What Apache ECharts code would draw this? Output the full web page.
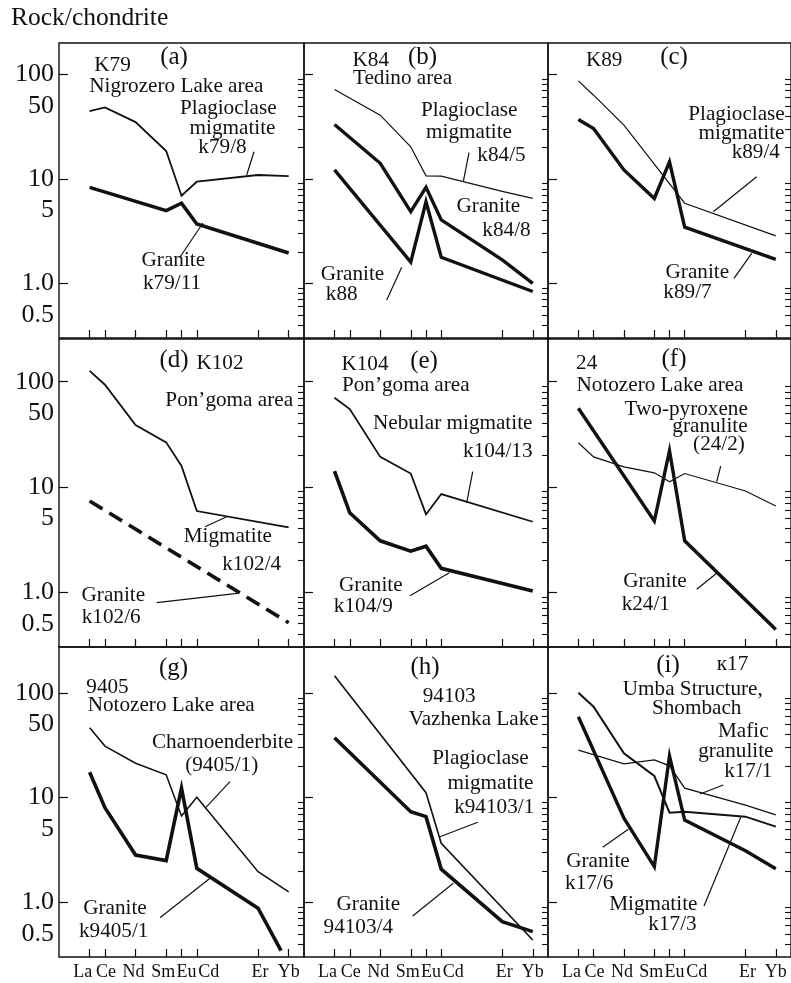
<!DOCTYPE html>
<html><head><meta charset="utf-8">
<script src="https://cdn.jsdelivr.net/npm/echarts@6.0.0/dist/echarts.min.js"></script>
<style>html,body{margin:0;padding:0;background:#fff}#c{width:791px;height:983px}</style>
</head><body><div id="c"></div>
<script>
// ---- axis data ----
const elements = ['La', 'Ce', 'Nd', 'Sm', 'Eu', 'Cd', 'Er', 'Yb'];
const elementZ = [57, 58, 60, 62, 63, 64, 68, 70];
const yTickLabels = [0.5, 1, 5, 10, 50, 100];
const yMajorTicks = [1, 10, 100];
const yMinorTicks = [0.4, 0.5, 0.6, 0.7, 0.8, 0.9, 2, 3, 4, 5, 6, 7, 8, 9, 20, 30, 40, 50, 60, 70, 80, 90];

// ---- series data: [atomic number, rock/chondrite] ----
const a_k79_8  = [[57,44.5],[58,48.3],[60,35],[62,18.5],[63,6.9],[64,9.4],[68,10.9],[70,10.65]];
const a_k79_11 = [[57,8.3],[62,4.97],[63,5.85],[64,3.7],[70,1.95]];
const b_k84_5  = [[57,71.8],[60,40.8],[62,20.3],[63,10.7],[64,10.65],[68,7.6],[70,6.5]];
const b_k84_8  = [[57,33.2],[60,14.1],[62,4.86],[63,8.3],[64,4.05],[68,1.68],[70,1.0]];
const b_k88    = [[57,12.2],[62,1.6],[63,6.05],[64,1.78],[70,0.836]];
const c_k89_4  = [[57,86.7],[58,63.3],[60,32.7],[64,5.85],[70,2.85]];
const c_k89_7  = [[57,37.1],[58,30.4],[60,12.2],[62,6.5],[63,14.6],[64,3.45],[70,1.7]];
const d_k102_4 = [[57,127],[58,93.7],[60,38.8],[62,26.5],[63,15.8],[64,5.89],[70,4.12]];
const d_k102_6 = [[57,7.33],[70,0.51]];
const e_k104_13= [[57,70.5],[58,55],[60,19.3],[62,13.4],[63,5.47],[64,8.55],[70,4.66]];
const e_k104_9 = [[57,14.1],[58,5.67],[60,3.07],[62,2.45],[63,2.73],[64,1.68],[70,1.02]];
const f_24_2   = [[57,26.3],[58,19.3],[60,15.5],[62,13.6],[63,11.2],[64,13.4],[68,9.13],[70,6.57]];
const f_k24_1  = [[57,55.9],[62,4.73],[63,22.1],[64,3.07],[70,0.441]];
const g_9405_1 = [[57,46.6],[58,31.1],[60,21.3],[62,16.5],[63,6.68],[64,10.1],[68,1.96],[70,1.26]];
const g_k9405_1= [[57,17.5],[58,8.0],[60,2.83],[62,2.5],[63,12.3],[64,2.11],[68,0.877],[69.5,0.345]];
const h_k94103_1=[[57,146],[63,11.15],[64,3.66],[70,0.436]];
const h_94103_4= [[57,37.4],[62,7.34],[63,6.58],[64,2.07],[68,0.653],[70,0.524]];
const i_k17_3  = [[57,100.6],[58,73.9],[60,26.5],[62,16.1],[63,7.18],[64,7.34],[68,6.58],[70,5.28]];
const i_k17_1  = [[57,28.5],[60,21.0],[62,22.9],[63,20.1],[64,12.3],[68,8.5],[70,6.83]];
const i_k17_6  = [[57,59.3],[60,6.35],[62,2.19],[63,25.0],[64,6.11],[68,3.11],[70,2.09]];

// ---- layout / style ----
const ink = '#111111';
const serif = 'Liberation Serif';
const colLeft = [59, 304, 548];
const colWidth = [245, 244, 248];
const rowTop = [43, 339, 647];
const rowHeight = [295, 308, 310];
const rowMax = [200, 255, 275];

const panelSeries = [
  [{d:a_k79_8,w:1.8},{d:a_k79_11,w:3.6}],
  [{d:b_k84_5,w:1.2},{d:b_k84_8,w:3.4},{d:b_k88,w:3.4}],
  [{d:c_k89_4,w:1.2},{d:c_k89_7,w:3.4}],
  [{d:d_k102_4,w:1.8},{d:d_k102_6,w:3.6,dash:[15,8]}],
  [{d:e_k104_13,w:1.8},{d:e_k104_9,w:3.6}],
  [{d:f_24_2,w:1.2},{d:f_k24_1,w:3.4}],
  [{d:g_9405_1,w:1.5},{d:g_k9405_1,w:3.6}],
  [{d:h_k94103_1,w:1.6},{d:h_94103_4,w:3.6}],
  [{d:i_k17_3,w:2.0},{d:i_k17_1,w:1.3},{d:i_k17_6,w:3.4}]
];

// label shifts via padding (shift = (padL - padR)/2)
const labelPad = [[0,14],[2,0],[0,4],[0,6],[10,0],[24,0],[4,0],[0,0]];
const rich = {};
labelPad.forEach((p, i) => {
  rich['s' + i] = {fontFamily: serif, fontSize: 18, color: ink, padding: [0, p[1], 0, p[0]]};
});

const grids = [], xAxes = [], yAxes = [], series = [];
for (let p = 0; p < 9; p++) {
  const r = Math.floor(p / 3), c = p % 3;
  grids.push({left: colLeft[c], top: rowTop[r], width: colWidth[c], height: rowHeight[r],
    show: true, borderColor: ink, borderWidth: 1.4, backgroundColor: 'transparent'});
  xAxes.push({gridIndex: p, type: 'value', min: 55, max: 71,
    axisLine: {show: false}, splitLine: {show: false},
    axisTick: {show: true, inside: true, length: 8, customValues: elementZ, lineStyle: {color: ink, width: 1.2}},
    axisLabel: {show: r === 2, customValues: elementZ, margin: 6,
      formatter: v => { const i = elementZ.indexOf(v); return i < 0 ? '' : '{s' + i + '|' + elements[i] + '}'; },
      rich: rich}
  });
  yAxes.push({gridIndex: p, type: 'log', logBase: 10, min: 0.3, max: rowMax[r],
    axisLine: {show: false}, splitLine: {show: false},
    axisTick: {show: true, inside: true, length: 9, customValues: yMajorTicks, lineStyle: {color: ink, width: 1.2}},
    axisLabel: {show: c === 0, customValues: yTickLabels, margin: 5, fontFamily: serif, fontSize: 26, color: ink,
      formatter: v => (Math.abs(v - 1) < 1e-9 ? '1.0' : String(+(+v).toPrecision(6)))}
  });
  yAxes.push({gridIndex: p, type: 'log', logBase: 10, min: 0.3, max: rowMax[r],
    axisLine: {show: false}, splitLine: {show: false}, axisLabel: {show: false},
    axisTick: {show: true, inside: true, length: 6, customValues: yMinorTicks, lineStyle: {color: ink, width: 1.1}}
  });
  panelSeries[p].forEach(s => {
    series.push({type: 'line', xAxisIndex: p, yAxisIndex: 2 * p, data: s.d, symbol: 'none', silent: true,
      lineStyle: {color: ink, width: s.w, type: s.dash || 'solid', join: 'miter'}});
  });
}

// ---- annotations: [text, centerX, centerY, fontSize] ----
const T = 21.2, L = 25;
const notes = [
  ['(a)',174,57,L],['K79',112.5,65,T],['Nigrozero Lake area',176.3,86,T],
  ['Plagioclase',228.3,108,T],['migmatite',232.5,128,T],['k79/8',222.5,147,T],
  ['Granite',173.3,260,T],['k79/11',172,283,T],
  ['K84',370.8,60,T],['(b)',422.5,57.5,L],['Tedino area',402.5,78.3,T],
  ['Plagioclase',469.2,110.8,T],['migmatite',469,132,T],['k84/5',501.5,155,T],
  ['Granite',488.3,206.7,T],['k84/8',506.5,230,T],['Granite',352.5,274,T],['k88',341.7,294,T],
  ['K89',604.2,60,T],['(c)',674,57.5,L],['Plagioclase',736.5,114,T],['migmatite',741.5,133,T],
  ['k89/4',755.8,152,T],['Granite',697.3,272.5,T],['k89/7',687.5,292.5,T],
  ['(d)',174,360,L],['K102',220,363,T],['Pon\u2019goma area',229.2,400,T],
  ['Migmatite',227.8,536,T],['k102/4',251.7,564,T],['Granite',113.3,595,T],['k102/6',111.2,617.5,T],
  ['K104',365,364,T],['(e)',424,361,L],['Pon\u2019goma area',405.8,385,T],
  ['Nebular migmatite',452.7,423.3,T],['k104/13',497.8,451.7,T],['Granite',370.8,585,T],['k104/9',363.3,606.7,T],
  ['24',586.7,363,T],['(f)',674,359,L],['Notozero Lake area',660,385,T],
  ['Two-pyroxene',686.2,409,T],['granulite',710,426,T],['(24/2)',719,444,T],
  ['Granite',655,581.7,T],['k24/1',645.8,604,T],
  ['(g)',173.5,668,L],['9405',107.5,687.5,T],['Notozero Lake area',171.2,705,T],
  ['Charnoenderbite',222.5,742.5,T],['(9405/1)',221.7,765,T],['Granite',115,908,T],['k9405/1',113.7,931,T],
  ['(h)',425,667,L],['94103',449.2,696.7,T],['Vazhenka Lake',473.7,719,T],
  ['Plagioclase',480.5,758,T],['migmatite',490.5,783,T],['k94103/1',494.2,807.5,T],
  ['Granite',368.3,904,T],['94103/4',358.3,927.5,T],
  ['(i)',668,665,L],['\u043a17',732.5,664,T],['Umba Structure,',692.8,689,T],['Shombach',696.7,708.3,T],
  ['Mafic',743.3,731.7,T],['granulite',735.8,751,T],['k17/1',748.3,771.7,T],
  ['Granite',598,861,T],['k17/6',589.2,883.3,T],['Migmatite',653.3,904,T],['k17/3',672.5,924,T]
];
// leader lines [x1,y1,x2,y2]
const leaders = [
  [254,151.7,246.7,175],[180,257,203,223],
  [469,152.7,463.3,181.7],[386.7,300,401.7,267.3],
  [756.7,176.7,713.3,211.7],[734,278.3,751.7,253.3],
  [205,526.7,226.7,516.7],[156.7,602.7,237.3,593.3],
  [472.7,471.7,466.7,502.7],[410,595.7,449.3,572.7],
  [720.7,466,716.7,481.7],[696.7,589.3,716.7,573.3],
  [230,781.7,205,808.3],[160,917.7,210,878.3],
  [477.7,822.3,440,836.7],[412.7,916,453.3,883.3],
  [723.3,785,700,794],[602.7,847.3,628.3,829.3],[704,906,740.7,817.3]
];

const graphic = [];
graphic.push({type: 'text', x: 11, y: 18.5, style: {text: 'Rock/chondrite', fill: ink, font: '25.5px "Liberation Serif"', align: 'left', verticalAlign: 'middle'}});
notes.forEach(n => graphic.push({type: 'text', x: n[1], y: n[2], z: 10,
  style: {text: n[0], fill: ink, font: n[3] + 'px "Liberation Serif"', align: 'center', verticalAlign: 'middle'}}));
leaders.forEach(l => graphic.push({type: 'line', z: 10, shape: {x1: l[0], y1: l[1], x2: l[2], y2: l[3]},
  style: {stroke: ink, lineWidth: 1.2}}));

const chart = echarts.init(document.getElementById('c'));
chart.setOption({
  animation: false,
  backgroundColor: '#fff',
  textStyle: {fontFamily: serif, color: ink},
  grid: grids, xAxis: xAxes, yAxis: yAxes, series: series, graphic: graphic
});
</script></body></html>
